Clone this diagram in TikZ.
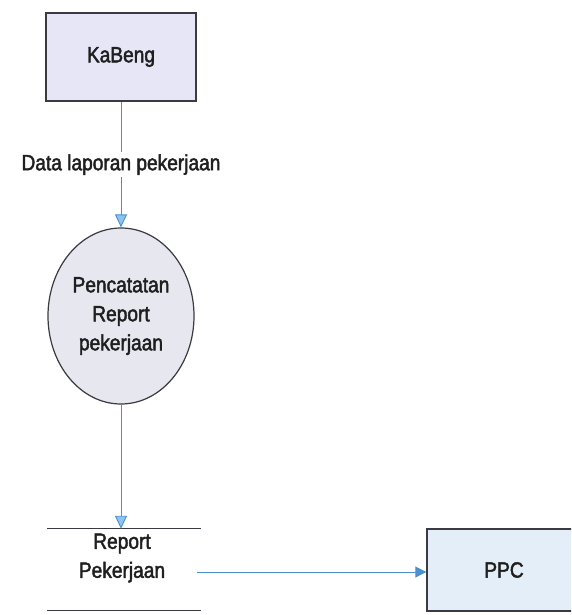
\documentclass[tikz,border=0pt]{standalone}
\usepackage{fontspec}
\setmainfont{Liberation Sans}[FakeBold=2, FakeStretch=0.87]
\usetikzlibrary{arrows.meta,shapes.geometric}

\definecolor{entityfill}{HTML}{E6E6F6}
\definecolor{processfill}{HTML}{E7E7F0}
\definecolor{ppcfill}{HTML}{E4EEF8}
\definecolor{outline}{HTML}{3A3A40}
\definecolor{flow}{HTML}{4A90D0}
\definecolor{tipfill}{HTML}{8CC4F0}

\tikzset{
  txt/.style={font=\fontsize{22}{29}\selectfont, text=black!88, align=center},
  entity/.style={txt, draw=outline, line width=1.4pt, rectangle, inner sep=0pt},
  process/.style={txt, draw=outline, line width=1.2pt, ellipse, fill=processfill,
    minimum width=146, minimum height=176, inner sep=0pt},
  storebox/.style={rectangle, inner sep=0pt, minimum width=154, minimum height=81},
  storeline/.style={draw=outline, line width=1.2pt},
  flowline/.style={draw=flow, line width=0.9pt},
  opentip/.style={flowline, -{Triangle[length=13pt, width=12pt, fill=tipfill]}},
  solidtip/.style={flowline, -{Triangle[length=11pt, width=11pt]}},
  flowlabel/.style={txt, fill=white, inner xsep=1pt, inner ysep=2pt}
}

\begin{document}
\begin{tikzpicture}[x=1pt, y=-1pt]
  \useasboundingbox (0,0) rectangle (571,615);
  \clip (0,0) rectangle (571,615);

  % external entities
  \node[entity, fill=entityfill, minimum width=150, minimum height=88] (kabeng) at (121,57) {KaBeng};
  \node[entity, fill=ppcfill, minimum width=154, minimum height=82] (ppc) at (504,570) {PPC};

  % process
  \node[process] (proses) at (121,316) {Pencatatan\\Report\\pekerjaan};

  % data store
  \node[storebox] (store) at (124,569.5) {};
  \draw[storeline] (store.north west) -- (store.north east);
  \draw[storeline] (store.south west) -- (store.south east);
  \node[txt] (storetext) at (122,558) {Report\\Pekerjaan};

  % data flows
  \draw[opentip] (kabeng.south) -- node[flowlabel, pos=0.5] {Data laporan pekerjaan} (proses.north);
  \draw[opentip] (proses.south) -- (store.north -| proses.south);
  \coordinate (flowstart) at (197,572);
  \draw[solidtip] (flowstart) -- (ppc.west |- flowstart);
\end{tikzpicture}
\end{document}
